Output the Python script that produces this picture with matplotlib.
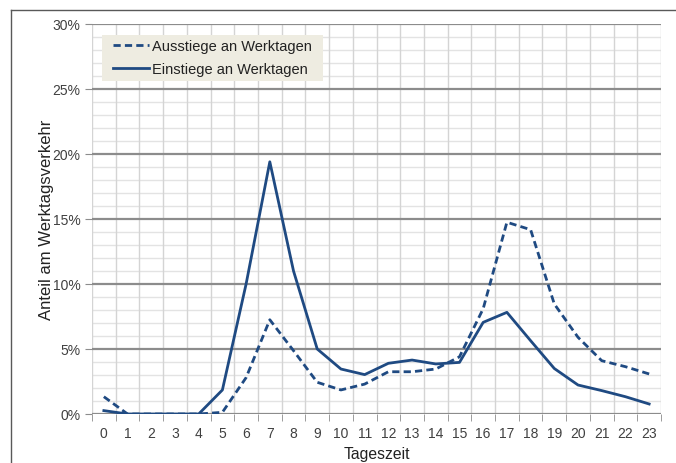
import matplotlib
matplotlib.use("Agg")
import matplotlib.pyplot as plt
from matplotlib.lines import Line2D
from matplotlib.patches import Rectangle
import numpy as np

hours = list(range(24))
hour_labels = [str(h) for h in hours]
ausstiege = [1.33, 0, 0, 0, 0, 0.13, 2.8, 7.25, 4.87, 2.44, 1.85, 2.3,
             3.25, 3.25, 3.46, 4.4, 8.1, 14.75, 14.18, 8.46, 5.9, 4.1, 3.64, 3.08]
einstiege = [0.26, 0, 0, 0, 0, 1.85, 10.0, 19.4, 11.0, 5.0, 3.46, 3.03,
             3.9, 4.15, 3.85, 3.97, 7.05, 7.82, 5.64, 3.5, 2.23, 1.8, 1.33, 0.77]
y_ticks = [0, 5, 10, 15, 20, 25, 30]
y_tick_labels = ["0%", "5%", "10%", "15%", "20%", "25%", "30%"]
series_names = ["Ausstiege an Werktagen", "Einstiege an Werktagen"]

plt.rcParams['font.family'] = ['Liberation Sans', 'DejaVu Sans']

W, H = 676, 464
fig = plt.figure(figsize=(W / 100, H / 100), dpi=100)
AX_L, AX_R, AX_T, AX_B = 92, 661, 25, 415
ax = fig.add_axes([AX_L / W, 1 - AX_B / H, (AX_R - AX_L) / W, (AX_B - AX_T) / H])

line_color = '#1F4A82'
major_grid = '#8C8C8C'
minor_grid = '#E3E3E3'
vert_grid = '#D4D4D4'

ax.set_xlim(-0.5, 23.5)
ax.set_ylim(0, 30)

for v in np.arange(1, 30, 1):
    if v % 5 != 0:
        ax.axhline(v, color=minor_grid, lw=1.0, zorder=0)
for b in np.arange(-0.5, 24, 1):
    ax.axvline(b, color=vert_grid, lw=1.0, zorder=0.5)
for v in y_ticks:
    ax.axhline(v, color=major_grid, lw=1.6, zorder=1)

ax.plot(hours, ausstiege, color=line_color, lw=2.0, dashes=(2.6, 1.5),
        zorder=3, label=series_names[0])
ax.plot(hours, einstiege, color=line_color, lw=2.0, zorder=3,
        label=series_names[1])

for s in ax.spines.values():
    s.set_visible(False)

ax.set_yticks(y_ticks)
ax.set_yticklabels(y_tick_labels)
ax.set_xticks(hours)
ax.set_xticklabels(hour_labels)
ax.set_xticks(np.arange(-0.5, 24, 1), minor=True)
ax.tick_params(axis='y', which='major', length=5, color=major_grid,
               labelsize=10, labelcolor='#404040', pad=3.4)
ax.tick_params(axis='x', which='major', length=0, labelsize=10,
               labelcolor='#404040', pad=9)
ax.tick_params(axis='x', which='minor', length=5, color=major_grid)
ax.tick_params(axis='y', which='minor', length=0)

ax.set_xlabel("Tageszeit", fontsize=11.3, color='#222222', labelpad=4)
ax.set_ylabel("Anteil am Werktagsverkehr", fontsize=12, color='#222222',
              labelpad=-1)


def ax_frac(px, py):
    return ((px - AX_L) / (AX_R - AX_L), (AX_B - py) / (AX_B - AX_T))


x0, y0 = ax_frac(102, 82)
x1, y1 = ax_frac(323, 36)
ax.add_patch(Rectangle((x0, y0), x1 - x0, y1 - y0, transform=ax.transAxes,
                       facecolor='#EEECE1', edgecolor='none', zorder=4,
                       clip_on=False))

ax_, ay_ = ax_frac(113, 40)
leg = ax.legend(loc='upper left', bbox_to_anchor=(ax_, ay_),
                fontsize=10.5, frameon=False,
                handlelength=2.45, handletextpad=0.2, borderpad=0,
                labelspacing=0.62, borderaxespad=0)
leg.set_zorder(5)
for t in leg.get_texts():
    t.set_color('#222222')

fig.add_artist(Line2D([11 / W, 1.0], [1 - 11 / H, 1 - 11 / H],
                      transform=fig.transFigure, color='#595959', lw=1.0))
fig.add_artist(Line2D([11 / W, 11 / W], [0, 1 - 11 / H],
                      transform=fig.transFigure, color='#595959', lw=1.0))

fig.savefig("out.png", dpi=100)
